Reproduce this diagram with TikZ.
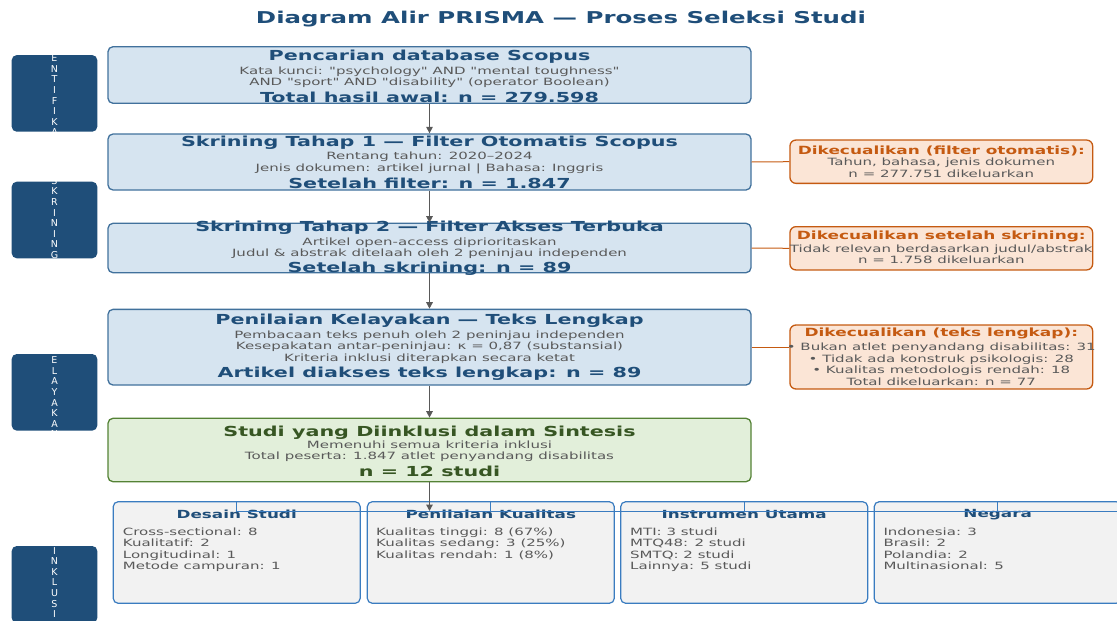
\documentclass[tikz,border=0pt]{standalone}
\usepackage{fontspec}
\setmainfont{DejaVu Sans}[FakeStretch=1.5]
\newfontfamily\mainf{DejaVu Sans}[FakeStretch=1.5]
\newfontfamily\phasefont{DejaVu Sans}
\usetikzlibrary{arrows.meta}
\definecolor{navy}{HTML}{1F4E79}
\definecolor{mainfill}{HTML}{D6E4F0}
\definecolor{mainedge}{HTML}{41719C}
\definecolor{greenfill}{HTML}{E2EFDA}
\definecolor{greenedge}{HTML}{548235}
\definecolor{greentext}{HTML}{375623}
\definecolor{orfill}{HTML}{FBE5D6}
\definecolor{oredge}{HTML}{C55A11}
\definecolor{graytext}{HTML}{595959}
\definecolor{arrgray}{HTML}{595959}
\definecolor{catfill}{HTML}{F2F2F2}
\definecolor{catedge}{HTML}{3A7CC0}
\tikzset{
  mainbox/.style={draw=mainedge, fill=mainfill, line width=1.3pt, rounded corners=5pt, minimum width=643pt, inner sep=0pt},
  greenbox/.style={mainbox, draw=greenedge, fill=greenfill},
  exbox/.style={draw=oredge, fill=orfill, line width=1.3pt, rounded corners=6pt, minimum width=302.7pt, inner sep=0pt},
  catbox/.style={draw=catedge, fill=catfill, line width=1.2pt, rounded corners=5pt, minimum width=247pt, minimum height=101.6pt, inner sep=0pt},
  phasebox/.style={fill=navy, rounded corners=5pt, minimum width=85.6pt, minimum height=76.6pt, inner sep=0pt},
  bigt/.style={inner sep=0pt, text=navy, font=\mainf\fontsize{13.8}{15}\selectfont\bfseries},
  bodyt/.style={inner sep=0pt, text=graytext, align=center, font=\mainf\fontsize{10}{11.5}\selectfont},
  ext/.style={inner sep=0pt, text=oredge, font=\mainf\fontsize{11.3}{13}\selectfont\bfseries},
  catt/.style={inner sep=0pt, text=navy, font=\mainf\fontsize{11.2}{13}\selectfont\bfseries},
  catbody/.style={inner sep=0pt, text=graytext, align=left, anchor=north west, font=\mainf\fontsize{10}{11.5}\selectfont},
  phaset/.style={inner sep=0pt, text=white, align=center, font=\phasefont\fontsize{9.5}{10.6}\selectfont},
  flow/.style={draw=arrgray, line width=1.3pt, -{Triangle[length=6.5pt,width=6.5pt]}},
  exline/.style={draw=oredge, line width=1pt},
  catline/.style={draw=catedge, line width=1pt},
}
\begin{document}
\begin{tikzpicture}[x=1pt,y=-1pt]
\useasboundingbox (0,0) rectangle (1117,621);
\node[inner sep=0pt, text=navy, font=\mainf\fontsize{16.3}{18}\selectfont\bfseries] (title) at (561,19) {Diagram Alir PRISMA — Proses Seleksi Studi};

% phase boxes
\node[phasebox] (p1) at (54.5,93.4) {};
\node[phaset] (p1t) at (54.5,95.3) {I\\D\\E\\N\\T\\I\\F\\I\\K\\A\\S\\I};
\node[phasebox] (p2) at (54.5,220) {};
\node[phaset] (p2t) at (54.5,218) {S\\K\\R\\I\\N\\I\\N\\G};
\node[phasebox] (p3) at (54.5,392.3) {};
\node[phaset] (p3t) at (54.5,392) {K\\E\\L\\A\\Y\\A\\K\\A\\N};
\node[phasebox, minimum height=77pt] (p4) at (54.5,584.5) {};
\node[phaset] (p4t) at (54.5,582.5) {I\\N\\K\\L\\U\\S\\I};

% main flow boxes
\node[mainbox, minimum height=56.6pt] (b1) at (429.5,75) {};
\node[bigt] (b1a) at (429.5,56.5) {Pencarian database Scopus};
\node[bodyt] (b1b) at (429.5,77) {Kata kunci: "psychology" AND "mental toughness"\\AND "sport" AND "disability" (operator Boolean)};
\node[bigt] (b1c) at (429.5,97) {Total hasil awal: n = 279.598};

\node[mainbox, minimum height=56pt] (b2) at (429.5,162) {};
\node[bigt] (b2a) at (429.5,143) {Skrining Tahap 1 — Filter Otomatis Scopus};
\node[bodyt] (b2b) at (429.5,163) {Rentang tahun: 2020–2024\\Jenis dokumen: artikel jurnal | Bahasa: Inggris};
\node[bigt] (b2c) at (429.5,183.5) {Setelah filter: n = 1.847};

\node[mainbox, minimum height=49.4pt] (b3) at (429.5,248) {};
\node[bigt] (b3a) at (429.5,228) {Skrining Tahap 2 — Filter Akses Terbuka};
\node[bodyt] (b3b) at (429.5,248) {Artikel open-access diprioritaskan\\Judul \& abstrak ditelaah oleh 2 peninjau independen};
\node[bigt] (b3c) at (429.5,269) {Setelah skrining: n = 89};

\node[mainbox, minimum height=75.7pt] (b4) at (429.5,347.2) {};
\node[bigt] (b4a) at (429.5,321) {Penilaian Kelayakan — Teks Lengkap};
\node[bodyt] (b4b) at (429.5,347) {Pembacaan teks penuh oleh 2 peninjau independen\\Kesepakatan antar-peninjau: κ = 0,87 (substansial)\\Kriteria inklusi diterapkan secara ketat};
\node[bigt] (b4c) at (429.5,373.5) {Artikel diakses teks lengkap: n = 89};

\node[greenbox, minimum height=63.4pt] (b5) at (429.5,450) {};
\node[bigt, text=greentext] (b5a) at (429.5,432.5) {Studi yang Diinklusi dalam Sintesis};
\node[bodyt] (b5b) at (429.5,451) {Memenuhi semua kriteria inklusi\\Total peserta: 1.847 atlet penyandang disabilitas};
\node[bigt, text=greentext] (b5c) at (429.5,471.7) {n = 12 studi};

% exclusion boxes
\node[exbox, minimum height=43.3pt] (e1) at (941.3,161.7) {};
\node[ext] (e1a) at (941.3,150.7) {Dikecualikan (filter otomatis):};
\node[bodyt] (e1b) at (941.3,168) {Tahun, bahasa, jenis dokumen\\n = 277.751 dikeluarkan};

\node[exbox, minimum height=43.3pt] (e2) at (941.3,248.3) {};
\node[ext] (e2a) at (941.3,236.7) {Dikecualikan setelah skrining:};
\node[bodyt] (e2b) at (941.3,254.2) {Tidak relevan berdasarkan judul/abstrak\\n = 1.758 dikeluarkan};

\node[exbox, minimum height=64pt] (e3) at (941.3,357) {};
\node[ext] (e3a) at (941.3,333.3) {Dikecualikan (teks lengkap):};
\node[bodyt, font=\mainf\fontsize{10}{11.7}\selectfont] (e3b) at (941.3,364.2) {• Bukan atlet penyandang disabilitas: 31\\• Tidak ada konstruk psikologis: 28\\• Kualitas metodologis rendah: 18\\Total dikeluarkan: n = 77};

\draw[exline] (b2.east) -- (e1.west);
\draw[exline] (b3.east) -- (e2.west);
\draw[exline] (b4.east) -- (b4.east -| e3.west);

% flow arrows
\draw[flow] (b1.south) -- (b2.north);
\draw[flow] (b2.south) -- (b3.north);
\draw[flow] (b3.south) -- (b4.north);
\draw[flow] (b4.south) -- (b5.north);

% category boxes
\node[catbox] (c1) at (236.7,552.5) {};
\node[catbox] (c2) at (490.8,552.5) {};
\node[catbox] (c3) at (744.2,552.5) {};
\node[catbox] (c4) at (997.7,552.5) {};
\node[catt] (c1t) at (236.7,514.3) {Desain Studi};
\node[catt] (c2t) at (490.8,514.3) {Penilaian Kualitas};
\node[catt] (c3t) at (744.2,514.3) {Instrumen Utama};
\node[catt] (c4t) at (997.7,514.3) {Negara};
\node[catbody] (c1b) at (122.7,527.3) {Cross-sectional: 8\\Kualitatif: 2\\Longitudinal: 1\\Metode campuran: 1};
\node[catbody] (c2b) at (376,527.3) {Kualitas tinggi: 8 (67\%)\\Kualitas sedang: 3 (25\%)\\Kualitas rendah: 1 (8\%)};
\node[catbody] (c3b) at (630,527.3) {MTI: 3 studi\\MTQ48: 2 studi\\SMTQ: 2 studi\\Lainnya: 5 studi};
\node[catbody] (c4b) at (883.3,527.3) {Indonesia: 3\\Brasil: 2\\Polandia: 2\\Multinasional: 5};

\coordinate (split) at (429.5,511);
\coordinate (hend) at (1117,511);
\draw[catline] (c1.north) -- (c1.north |- split) -- (hend);
\draw[catline] (c2.north) -- (c2.north |- split);
\draw[catline] (c3.north) -- (c3.north |- split);
\draw[catline] (c4.north) -- (c4.north |- split);
\draw[flow] (b5.south) -- (split);
\end{tikzpicture}
\end{document}
